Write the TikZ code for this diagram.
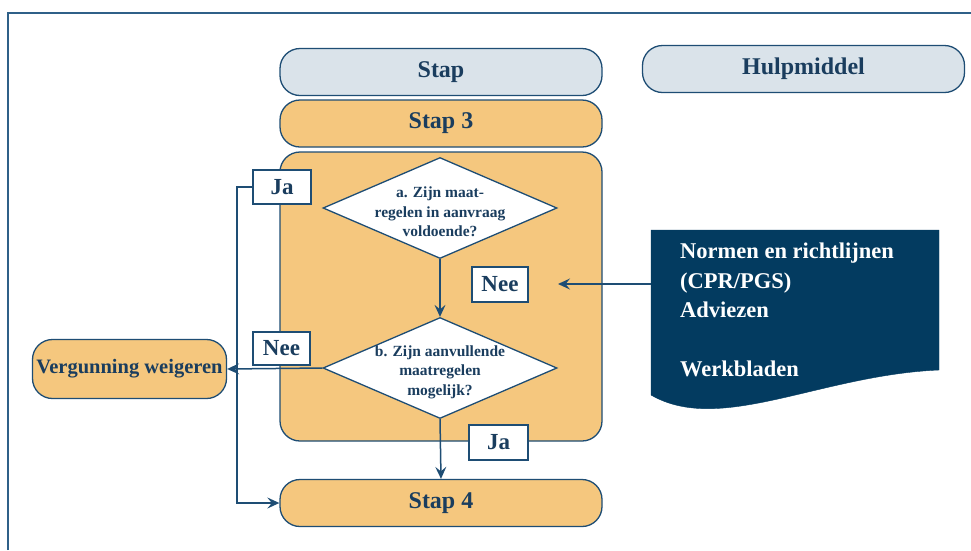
\documentclass[tikz,border=0pt]{standalone}
\usepackage{fontspec}
\setmainfont{Liberation Serif}
\usetikzlibrary{arrows.meta,shapes.geometric}
\definecolor{navy}{HTML}{1E4D74}
\definecolor{inkblue}{HTML}{1A3D5E}
\definecolor{docblue}{HTML}{033B60}
\definecolor{peach}{HTML}{F5C77E}
\definecolor{mist}{HTML}{DAE3EA}
\definecolor{framecol}{HTML}{2F6088}

\begin{document}
\begin{tikzpicture}[x=1pt,y=-1pt,
  pill/.style={draw=navy, line width=1.3pt, rounded corners=20pt,
    minimum width=322pt, minimum height=47pt, inner sep=0pt, text=inkblue,
    font=\bfseries\fontsize{24}{28}\selectfont},
  headbox/.style={pill, fill=mist},
  stepbox/.style={pill, fill=peach},
  tag/.style={draw=navy, line width=1.5pt, fill=white, inner sep=0pt,
    text=inkblue, font=\bfseries\fontsize{23}{26}\selectfont},
  question/.style={diamond, draw=navy, line width=1.3pt, fill=white,
    inner sep=0pt, minimum width=234pt, minimum height=101pt},
  qtext/.style={align=center, text=inkblue, inner sep=0pt,
    font=\bfseries\fontsize{15.5}{19.5}\selectfont},
  flow/.style={draw=navy, line width=1.5pt,
    -{Stealth[length=12pt,width=11pt,inset=4.5pt]}}]

\useasboundingbox (0,0) rectangle (971,550);
\fill[white] (0,0) rectangle (971,550);

% outer frame (open at right and bottom)
\draw[framecol, line width=1.8pt] (8,550) -- (8,13) -- (971,13);

% column headers
\node[headbox] (colstep) at (441,72) {\raisebox{-1.5pt}{Stap}};
\node[headbox] (coltool) at (803.5,69) {\raisebox{-1.5pt}{Hulpmiddel}};

% step 3 and its panel
\node[stepbox] (stap3) at (441,123.5) {\raisebox{-1.5pt}{Stap 3}};
\node[draw=navy, line width=1.3pt, fill=peach, rounded corners=20pt,
      minimum width=322pt, minimum height=289pt, inner sep=0pt]
      (panel) at (441,296.5) {};

% decisions
\node[question] (qa) at (440,208) {};
\node[qtext] (qatext) at (440,212) {a. Zijn maat-\\regelen in aanvraag\\voldoende?};
\node[question] (qb) at (440,368) {};
\node[qtext] (qbtext) at (440,372) {b. Zijn aanvullende\\maatregelen\\mogelijk?};

% step 4 and refusal
\node[stepbox] (stap4) at (441,503) {\raisebox{-1.5pt}{Stap 4}};
\node[draw=navy, line width=1.3pt, fill=peach, rounded corners=20pt,
      minimum width=194pt, minimum height=59pt, inner sep=0pt, text=inkblue,
      font=\bfseries\fontsize{20.5}{24}\selectfont]
      (refuse) at (129.5,369) {Vergunning weigeren};

% reference document
\draw[fill=docblue, draw=docblue] (651,230) -- (939,230) -- (939,370)
  .. controls (820,375) and (720,435) .. (651,395) -- cycle;
\node[anchor=north west, align=left, inner sep=0pt, text=white,
      font=\bfseries\fontsize{22.5}{29.5}\selectfont]
      (doc) at (680,243) {Normen en richtlijnen\\(CPR/PGS)\\Adviezen\\[29.5pt]Werkbladen};
\coordinate (docport) at (651,284);
\coordinate (docaim) at (558,284);

% connectors
\coordinate (railx) at (237,0);
\draw[flow] (qa.south) -- (qb.north);
\draw[flow] (qb.west) -- (refuse.east);
\draw[flow] (qb.south) -- (stap4.north);
\draw[flow] (docport) -- (docaim);

% answer labels
\node[tag, minimum width=58pt, minimum height=34pt] (jatop) at (282,187) {Ja};
\node[tag, minimum width=56pt, minimum height=35pt] (neemid) at (500,284.5) {Nee};
\node[tag, minimum width=57pt, minimum height=33pt] (neeleft) at (281.5,348.5) {Nee};
\node[tag, minimum width=59pt, minimum height=35pt] (jabot) at (498.5,442.5) {Ja};

\draw[flow] (jatop.west) -- (railx |- jatop.west) |- (stap4.west);
\end{tikzpicture}
\end{document}
